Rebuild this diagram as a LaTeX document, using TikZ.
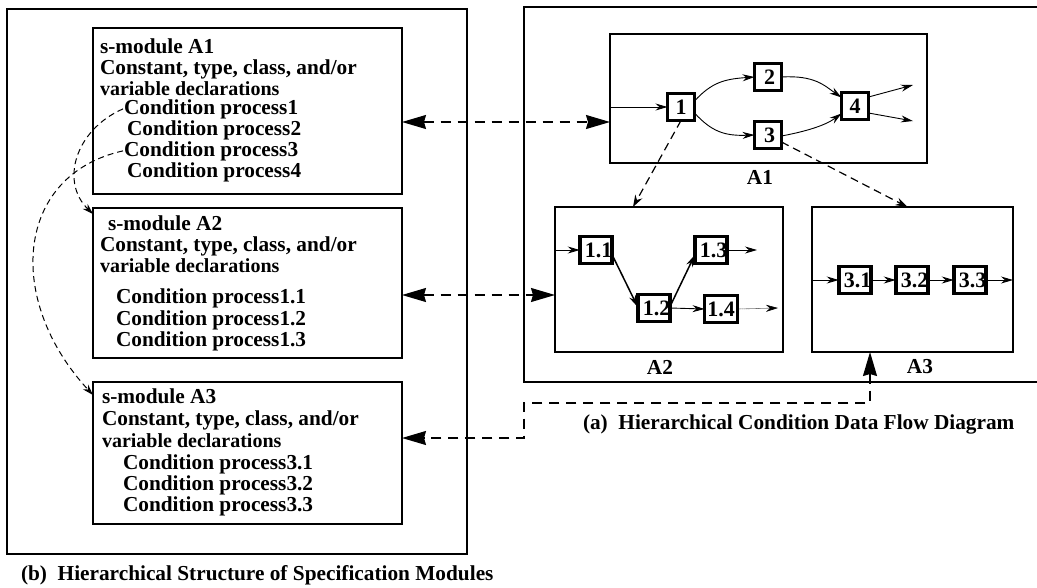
\documentclass[tikz,border=0pt]{standalone}
\usepackage{fontspec}
\setmainfont{Liberation Serif}
\usetikzlibrary{arrows.meta}
\begin{document}
\begin{tikzpicture}[x=1pt,y=-1pt,
  font=\bfseries\fontsize{21.3}{21}\selectfont,
  frame/.style={draw, line width=1.2pt, inner sep=0pt, outer sep=0pt, anchor=north west},
  txt/.style={anchor=base west, inner sep=0pt, outer sep=0pt},
  small/.style={font=\bfseries\fontsize{20}{20}\selectfont},
  proc/.style={draw, line width=3.6pt, minimum width=27pt, minimum height=27pt,
    inner sep=0pt, outer sep=0pt, font=\bfseries\fontsize{22}{22}\selectfont},
  flow/.style={-{Stealth[length=12pt,width=7pt]}, line width=0.9pt},
  flowthick/.style={-{Stealth[length=12pt,width=7pt]}, line width=1.5pt},
  link/.style={{Stealth[length=24pt,width=14pt,inset=2pt]}-{Stealth[length=24pt,width=14pt,inset=2pt]},
    dash pattern=on 10pt off 7pt, line width=1.5pt},
  refine/.style={-{Stealth[length=12pt,width=8pt]}, dash pattern=on 8pt off 5pt, line width=1.2pt},
  calls/.style={-{Stealth[length=11pt,width=7pt]}, dash pattern=on 6pt off 4pt, line width=1pt}]

\useasboundingbox (0,0) rectangle (1037,587);
\fill[white] (0,0) rectangle (1037,587);

% ---------- outer frames ----------
\node[frame, minimum width=460pt, minimum height=545pt] (frameL) at (7,9) {};
\node[frame, minimum width=530pt, minimum height=375pt] (frameR) at (524,7) {};

% ---------- specification modules ----------
\node[frame, minimum width=309pt, minimum height=166pt] (mA1) at (93,28) {};
\node[frame, minimum width=309pt, minimum height=150pt] (mA2) at (93,208) {};
\node[frame, minimum width=309pt, minimum height=142pt] (mA3) at (93,382) {};

\node[txt] (a1t1) at (100,53) {s-module A1};
\node[txt] (a1t2) at (100,74) {Constant, type, class, and/or};
\node[txt, small] (a1t3) at (100,95) {variable declarations};
\node[txt] (cp1) at (124,114) {Condition process1};
\node[txt] (cp2) at (127,135) {Condition process2};
\node[txt] (cp3) at (124,156) {Condition process3};
\node[txt] (cp4) at (127,177) {Condition process4};

\node[txt] (a2t1) at (108,230) {s-module A2};
\node[txt] (a2t2) at (100,251) {Constant, type, class, and/or};
\node[txt, small] (a2t3) at (100,272) {variable declarations};
\node[txt] (cp11) at (116,303) {Condition process1.1};
\node[txt] (cp12) at (116,325) {Condition process1.2};
\node[txt] (cp13) at (116,346) {Condition process1.3};

\node[txt] (a3t1) at (102,403) {s-module A3};
\node[txt] (a3t2) at (102,425) {Constant, type, class, and/or};
\node[txt, small] (a3t3) at (102,447) {variable declarations};
\node[txt] (cp31) at (123,469) {Condition process3.1};
\node[txt] (cp32) at (123,490) {Condition process3.2};
\node[txt] (cp33) at (123,511) {Condition process3.3};

\node[txt] (capB) at (21,580) {(b)\ \ Hierarchical Structure of Specification Modules};

% ---------- data flow diagrams ----------
\node[frame, minimum width=317pt, minimum height=129pt] (dA1) at (610,34) {};
\node[frame, minimum width=228pt, minimum height=145pt] (dA2) at (555,207) {};
\node[frame, minimum width=201pt, minimum height=145pt] (dA3) at (812,207) {};

\node (lA1) at (760,177) {A1};
\node (lA2) at (660,367) {A2};
\node (lA3) at (920,367) {A3};

\node[txt] (capA) at (583,429) {(a)\ \ Hierarchical Condition Data Flow Diagram};

% A1 processes
\node[proc] (n1) at (681,107) {1};
\node[proc] (n2) at (768,77) {\hspace*{3pt}2};
\node[proc] (n3) at (768,135) {\hspace*{3pt}3};
\node[proc] (n4) at (855,106) {4};
\coordinate (o4a) at (913,85);
\coordinate (o4b) at (913,121);

\draw[flow] (dA1.west |- n1) -- (n1);
\draw[flow] ([yshift=6pt]n1.east) .. controls (712,82) and (725,79) .. (n2.west);
\draw[flow] ([yshift=-6pt]n1.east) .. controls (712,132) and (725,136) .. (n3.west);
\draw[flow] (n2.east) .. controls (815,75) and (825,86) .. ([yshift=-5pt]n4.north west);
\draw[flow] ([yshift=-1pt]n3.east) .. controls (808,131) and (826,125) .. ([yshift=6pt]n4.south west);
\draw[flow] ([yshift=9pt]n4.east) -- (o4a);
\draw[flow] ([yshift=-7pt]n4.east) -- (o4b);

% A2 processes
\node[proc] (n11) at (596,250) {\hspace*{5pt}1.1};
\node[proc] (n12) at (654,308) {\hspace*{5pt}1.2};
\node[proc] (n13) at (711,250) {\hspace*{5pt}1.3};
\node[proc, minimum width=33pt] (n14) at (721,309) {1.4};
\coordinate (o13) at (757,250);
\coordinate (o14) at (778,308);

\draw[flow] (dA2.west |- n11) -- (n11);
\draw[flowthick] ([yshift=-5pt]n11.east) -- ([yshift=1pt]n12.west);
\draw[flowthick] ([yshift=2pt]n12.east) -- ([yshift=-5pt]n13.west);
\draw[flow] (n12.east) -- (n14.west);
\draw[flow] (n13.east) -- (o13);
\draw[-{Stealth[length=12pt,width=7pt]}, line width=0.6pt, dash pattern=on 1pt off 1pt] (n14.east) -- (o14);

% A3 processes
\node[proc] (n31) at (855,280) {\hspace*{5pt}3.1};
\node[proc] (n32) at (912,280) {\hspace*{5pt}3.2};
\node[proc] (n33) at (970,280) {\hspace*{5pt}3.3};

\draw[flow] (dA3.west |- n31) -- (n31);
\draw[flow] (n31) -- (n32);
\draw[flow] (n32) -- (n33);
\draw[flow] (n33) -- (dA3.east |- n33);

% refinement of processes into sub-diagrams
\draw[refine] (n1.south) -- ([xshift=-36pt]dA2.north);
\draw[refine] ([yshift=-7pt]n3.east) -- ([xshift=-5pt]dA3.north);

% ---------- module / diagram correspondence ----------
\coordinate (bend) at (524,403);
\draw[link] ([yshift=-11pt]mA1.east) -- ([yshift=-11pt]mA1.east -| dA1.west);
\draw[link] ([yshift=-12pt]mA2.east) -- ([yshift=-12pt]mA2.east -| dA2.west);
\draw[link] ([xshift=-42.5pt]dA3.south) |- (bend) |- ([yshift=15pt]mA3.east);

% ---------- condition processes to their s-modules ----------
\draw[calls] ([xshift=-1pt]cp1.west) .. controls (75,130) and (60,182) .. ([yshift=-6pt]mA2.north west);
\draw[calls] ([xshift=-1pt]cp3.west) .. controls (15,175) and (5,300) .. ([yshift=-13pt]mA3.north west);
\end{tikzpicture}
\end{document}
